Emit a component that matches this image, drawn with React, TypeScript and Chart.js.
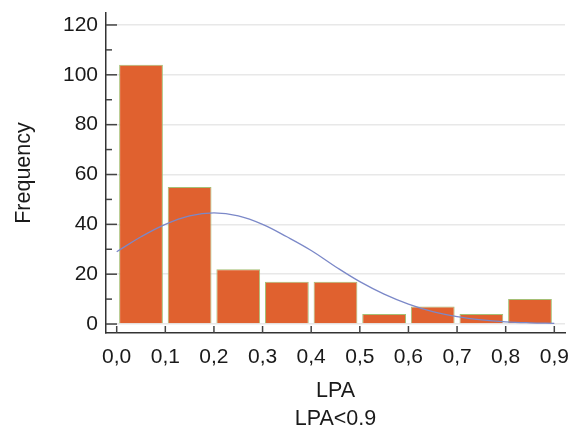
import React, { useEffect, useRef } from "react";
import { Chart, registerables } from "chart.js";

Chart.register(...registerables);

// ---- data ----
const binCenters = [0.05, 0.15, 0.25, 0.35, 0.45, 0.55, 0.65, 0.75, 0.85];
const frequencies = [104, 55, 22, 17, 17, 4, 7, 4, 10];

const curveX = [0, 0.05, 0.1, 0.15, 0.2, 0.25, 0.3, 0.35, 0.4, 0.45, 0.5, 0.55, 0.6, 0.65, 0.7, 0.75, 0.8, 0.85, 0.9];
const curveY = [29, 35, 40, 43.4, 44.6, 43.4, 40, 35, 29.5, 23, 17, 12, 8, 5, 3, 1.7, 0.9, 0.5, 0.3];

const xTickValues = [0, 0.1, 0.2, 0.3, 0.4, 0.5, 0.6, 0.7, 0.8, 0.9];
const yTickValues = [0, 20, 40, 60, 80, 100, 120];
const yMinorTickValues = [10, 30, 50, 70, 90, 110];

const xAxisTitle = ["LPA", "LPA<0.9"];
const yAxisTitle = "Frequency";

const FONT = "'Liberation Sans', Arial, Helvetica, sans-serif";
const TEXT = "#1a1a1a";
const AXIS = "#333333";

const inwardTicks = {
  id: "inwardTicks",
  afterDraw(chart: any) {
    const { ctx, chartArea, scales } = chart;
    const x = scales.x;
    const y = scales.y;
    ctx.save();
    ctx.strokeStyle = "#444444";
    ctx.lineWidth = 1.5;
    const seg = (x1: number, y1: number, x2: number, y2: number) => {
      ctx.beginPath();
      ctx.moveTo(x1, y1);
      ctx.lineTo(x2, y2);
      ctx.stroke();
    };
    yTickValues.forEach((v) => {
      const py = y.getPixelForValue(v);
      seg(chartArea.left, py, chartArea.left + 11, py);
    });
    yMinorTickValues.forEach((v) => {
      const py = y.getPixelForValue(v);
      seg(chartArea.left, py, chartArea.left + 6, py);
    });
    xTickValues.forEach((v) => {
      const px = x.getPixelForValue(v);
      seg(px, chartArea.bottom, px, chartArea.bottom - 7);
    });
    ctx.restore();
  },
};

export default function App() {
  const ref = useRef<HTMLCanvasElement | null>(null);

  useEffect(() => {
    if (!ref.current) return;
    const chart = new Chart(ref.current, {
      type: "bar",
      data: {
        datasets: [
          {
            type: "line",
            data: curveX.map((v, i) => ({ x: v, y: curveY[i] })),
            borderColor: "#7B88C8",
            borderWidth: 1.3,
            pointRadius: 0,
            tension: 0.4,
            fill: false,
            order: 0,
          } as any,
          {
            type: "bar",
            data: binCenters.map((v, i) => ({ x: v, y: frequencies[i] })),
            backgroundColor: "#E0612F",
            borderColor: "#A5BF75",
            borderWidth: 1,
            barPercentage: 0.9,
            categoryPercentage: 1,
            order: 1,
          } as any,
        ],
      },
      options: {
        responsive: false,
        animation: false,
        layout: { padding: { top: 13, right: 6, left: 0, bottom: 0 } },
        plugins: {
          legend: { display: false },
          tooltip: { enabled: false },
        },
        scales: {
          x: {
            type: "linear",
            min: -0.022,
            max: 0.922,
            offset: false,
            afterBuildTicks: (s: any) => {
              s.ticks = xTickValues.map((v) => ({ value: v }));
            },
            afterFit: (s: any) => {
              s.height = 97;
              s.paddingLeft = 0;
              s.paddingRight = 0;
            },
            ticks: {
              autoSkip: false,
              maxRotation: 0,
              padding: 12,
              color: TEXT,
              font: { family: FONT, size: 21 },
              callback: (v: any) => Number(v).toFixed(1).replace(".", ","),
            },
            grid: { display: false, drawTicks: false, offset: false },
            border: { display: true, color: AXIS, width: 1.5 },
            title: {
              display: true,
              text: xAxisTitle,
              color: TEXT,
              font: { family: FONT, size: 21.5, lineHeight: 1.3 },
              padding: { top: 4, bottom: -3 },
            },
          } as any,
          y: {
            type: "linear",
            min: -3.6,
            max: 124.8,
            afterBuildTicks: (s: any) => {
              s.ticks = yTickValues.map((v) => ({ value: v }));
            },
            afterFit: (s: any) => {
              s.width = 106;
              s.paddingTop = 0;
              s.paddingBottom = 0;
            },
            ticks: {
              padding: 8,
              color: TEXT,
              font: { family: FONT, size: 21 },
            },
            grid: { color: "#E8E8E8", lineWidth: 1.5, drawTicks: false },
            border: { display: true, color: AXIS, width: 1.5 },
            title: {
              display: true,
              text: yAxisTitle,
              color: TEXT,
              font: { family: FONT, size: 21.5 },
              padding: { top: 11, bottom: 0 },
            },
          } as any,
        },
      },
      plugins: [inwardTicks],
    });
    return () => chart.destroy();
  }, []);

  return (
    <div style={{ position: "absolute", left: 0, top: 0, width: 571, height: 430, background: "#ffffff" }}>
      <canvas ref={ref} width={571} height={430} style={{ display: "block" }} />
    </div>
  );
}
